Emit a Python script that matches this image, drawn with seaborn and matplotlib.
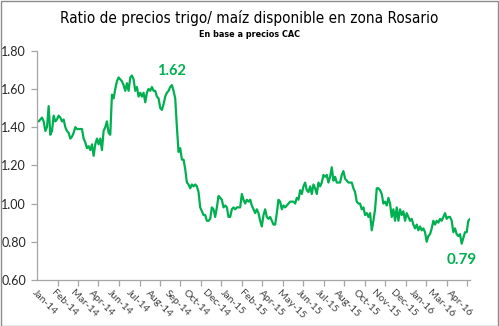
import numpy as np
import pandas as pd
import matplotlib
matplotlib.use("Agg")
import matplotlib.pyplot as plt
import seaborn as sns
from matplotlib.patches import Rectangle
from matplotlib import font_manager

# ---------------------------------------------------------------------------
# Data: wheat / corn spot price ratio, Rosario (CAC prices)
# ---------------------------------------------------------------------------
title = "Ratio de precios trigo/ maíz disponible en zona Rosario"
subtitle = "En base a precios CAC"

month_labels = [
    "Jan-14", "Feb-14", "Mar-14", "Apr-14", "Jun-14", "Jul-14", "Aug-14",
    "Sep-14", "Oct-14", "Dec-14", "Jan-15", "Feb-15", "Apr-15", "May-15",
    "Jun-15", "Jul-15", "Aug-15", "Oct-15", "Nov-15", "Dec-15", "Jan-16",
    "Mar-16", "Apr-16",
]

ratio_jan14_jul14 = [
    1.43, 1.43, 1.44, 1.45, 1.43, 1.38, 1.40, 1.51, 1.36, 1.38,
    1.46, 1.43, 1.44, 1.46, 1.45, 1.43, 1.44, 1.40, 1.38, 1.37,
    1.34, 1.35, 1.37, 1.40, 1.39, 1.39, 1.39, 1.39, 1.34, 1.32,
    1.29, 1.30, 1.28, 1.31, 1.25, 1.31, 1.34, 1.31, 1.34, 1.28,
    1.38, 1.40, 1.43, 1.37, 1.36, 1.57, 1.55, 1.60, 1.64, 1.66,
    1.65, 1.64, 1.62, 1.59, 1.63, 1.59, 1.66, 1.67, 1.65, 1.59,
    1.61, 1.56, 1.58,
]

ratio_jul14_feb15 = [
    1.56, 1.58, 1.53, 1.58, 1.60, 1.59, 1.61, 1.59, 1.59, 1.56,
    1.55, 1.50, 1.49, 1.52, 1.56, 1.58, 1.59, 1.61, 1.62, 1.59,
    1.55, 1.40, 1.27, 1.29, 1.23, 1.23, 1.18, 1.11, 1.10, 1.08,
    1.10, 1.09, 1.10, 1.09, 1.06, 0.98, 0.96, 0.94, 0.94, 0.91,
    0.91, 0.92, 0.98, 0.97, 0.93, 0.98, 1.04, 1.03, 1.02, 0.98,
    0.99, 0.98, 0.93, 0.93, 0.97, 0.98, 0.97, 0.98, 0.98, 0.98,
    1.05, 1.02, 1.00, 1.02, 1.01,
]

ratio_feb15_oct15 = [
    1.02, 0.99, 0.97, 0.95, 0.97, 0.95, 0.91, 0.88, 0.94, 0.97,
    0.93, 0.92, 0.93, 0.91, 0.89, 0.89, 0.95, 1.02, 1.01, 0.97,
    0.99, 0.98, 0.99, 1.00, 1.01, 1.01, 1.01, 1.00, 1.03, 1.02,
    1.07, 1.05, 1.09, 1.11, 1.07, 1.06, 1.09, 1.05, 1.10, 1.08,
    1.05, 1.11, 1.09, 1.11, 1.15, 1.14, 1.15, 1.11, 1.14, 1.19,
    1.12, 1.14, 1.11, 1.11, 1.11, 1.15, 1.17, 1.13, 1.12, 1.11,
    1.11, 1.11, 1.08, 1.06, 1.01, 1.00, 1.00,
]

ratio_oct15_apr16 = [
    0.97, 0.98, 0.94, 0.95, 0.93, 0.95, 0.86, 0.91, 0.97, 1.08,
    1.08, 1.07, 1.05, 1.00, 1.01, 0.99, 1.03, 1.00, 0.93, 0.97,
    0.91, 0.98, 0.91, 0.97, 0.94, 0.96, 0.91, 0.95, 0.93, 0.91,
    0.92, 0.89, 0.87, 0.89, 0.86, 0.88, 0.86, 0.87, 0.85, 0.80,
    0.83, 0.84, 0.87, 0.91, 0.89, 0.91, 0.90, 0.92, 0.91, 0.93,
    0.95, 0.92, 0.93, 0.93, 0.91, 0.85, 0.87, 0.84, 0.83, 0.84,
    0.79, 0.82, 0.85, 0.85, 0.91, 0.92,
]

ratio = np.array(ratio_jan14_jul14 + ratio_jul14_feb15
                 + ratio_feb15_oct15 + ratio_oct15_apr16)
df = pd.DataFrame({"obs": np.arange(len(ratio)), "ratio": ratio})

# Highlighted values: the pre-harvest peak and the series low
peak_obs = len(ratio_jan14_jul14) + int(np.argmax(ratio_jul14_feb15))
low_obs = int(np.argmin(ratio))

# ---------------------------------------------------------------------------
# Styling
# ---------------------------------------------------------------------------
GREEN = "#00B050"
AXIS_GREY = "#A6A6A6"
LABEL_FONT = ["Lato", "DejaVu Sans"]

# Pick a narrow face for the headings if one is installed
installed = {f.name for f in font_manager.fontManager.ttflist}
condensed = [f for f in font_manager.fontManager.ttflist
             if str(f.stretch) in ("condensed", "semi-condensed",
                                   "extra-condensed", "500", "400") and
             ("ondensed" in f.fname or "Narrow" in f.fname)]
if "Liberation Sans Narrow" in installed:
    HEAD_FONT = dict(family=["Liberation Sans Narrow", "DejaVu Sans"])
    title_size, sub_size = 12, 6.8
elif condensed:
    HEAD_FONT = dict(family=[condensed[0].name, "DejaVu Sans"],
                     stretch="condensed")
    title_size, sub_size = 11, 6.5
else:
    HEAD_FONT = dict(family=["Roboto", "DejaVu Sans"])
    title_size, sub_size = 10.6, 6.4

sns.set_theme(style="white")
plt.rcParams["font.family"] = LABEL_FONT

W, H = 499, 326
fig = plt.figure(figsize=(W / 100, H / 100), dpi=100)
fig.patch.set_facecolor("white")

x0, x1, y_top, y_bot = 37, 470, 50.7, 280
ax = fig.add_axes([x0 / W, 1 - y_bot / H, (x1 - x0) / W, (y_bot - y_top) / H])

sns.lineplot(data=df, x="obs", y="ratio", color=GREEN, linewidth=1.6, ax=ax)

n_last = len(ratio) - 1
ax.set_xlim(0, n_last)
ax.set_ylim(0.6, 1.8)
ax.set_xlabel("")
ax.set_ylabel("")

# y axis
ax.set_yticks(np.arange(0.6, 1.81, 0.2))
ax.set_yticklabels([f"{v:.2f}" for v in np.arange(0.6, 1.81, 0.2)])
ax.tick_params(axis="y", which="major", direction="out", length=4, width=0.9,
               color=AXIS_GREY, pad=4, labelsize=9, labelcolor="#262626",
               left=True)

# x axis: category labels and tick marks on independent intervals
obs_per_px = n_last / (x1 - x0)
label_step = 18.83 * obs_per_px
tick_step = 20.5 * obs_per_px
label_pos = np.arange(len(month_labels)) * label_step
tick_pos = np.arange(0, n_last + 0.5, tick_step)

ax.set_xticks(label_pos)
ax.set_xticklabels(month_labels, rotation=-45, ha="left", va="top",
                   rotation_mode="anchor")
ax.set_xticks(tick_pos, minor=True)
ax.tick_params(axis="x", which="major", length=0, pad=6, labelsize=7.5,
               labelcolor="#404040", bottom=True)
ax.tick_params(axis="x", which="minor", direction="out", length=4, width=0.9,
               color=AXIS_GREY, bottom=True)

for side in ("top", "right"):
    ax.spines[side].set_visible(False)
for side in ("left", "bottom"):
    ax.spines[side].set_color(AXIS_GREY)
    ax.spines[side].set_linewidth(0.9)
ax.grid(False)

# Value labels
ax.annotate(f"{ratio[peak_obs]:.2f}", xy=(peak_obs, ratio[peak_obs]),
            xytext=(0, 10), textcoords="offset points", ha="center",
            va="center", color=GREEN, fontsize=10.5, fontweight="bold",
            family=LABEL_FONT)
ax.annotate(f"{ratio[low_obs]:.2f}", xy=(low_obs, ratio[low_obs]),
            xytext=(0, -12), textcoords="offset points", ha="center",
            va="center", color=GREEN, fontsize=11, fontweight="bold",
            family=LABEL_FONT)

# Titles
fig.text(0.5, 1 - 22.7 / H, title, ha="center", va="baseline",
         fontsize=title_size, color="black", **HEAD_FONT)
fig.text(0.5, 1 - 36.7 / H, subtitle, ha="center", va="baseline",
         fontsize=sub_size, color="black", fontweight="bold", **HEAD_FONT)

# Outer frame
fig.patches.append(Rectangle((0.5 / W, 0.5 / H), 1 - 1.5 / W, 1 - 1.5 / H,
                             transform=fig.transFigure, fill=False,
                             edgecolor="#8C8C8C", linewidth=1.0))

fig.savefig("out.png", dpi=100)
